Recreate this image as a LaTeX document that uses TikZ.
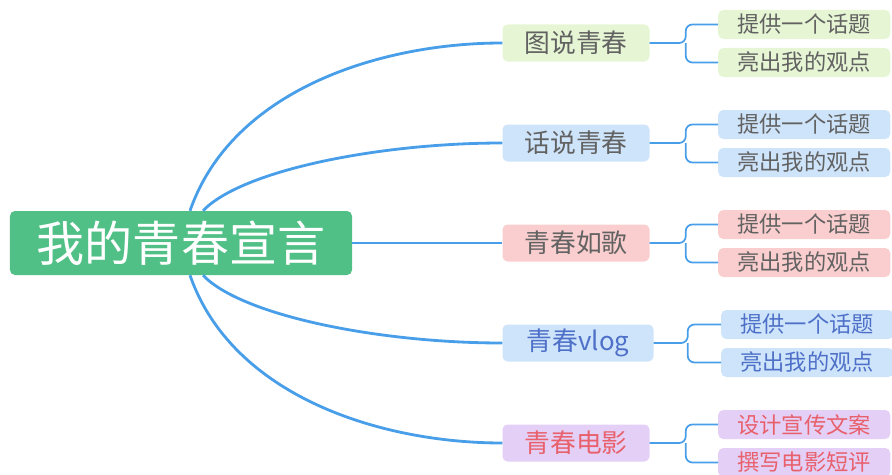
\documentclass[tikz,border=0pt]{standalone}
\usepackage{fontspec}
\setmainfont{Noto Sans CJK SC}
\usetikzlibrary{positioning,calc}
\definecolor{mmGreen}{RGB}{80,192,134}
\definecolor{mmLine}{RGB}{72,158,232}
\definecolor{mmText}{RGB}{98,98,98}
\definecolor{mmLime}{RGB}{230,246,212}
\definecolor{mmSky}{RGB}{206,228,250}
\definecolor{mmPink}{RGB}{250,206,206}
\definecolor{mmLilac}{RGB}{228,208,246}
\definecolor{mmBlueText}{RGB}{78,112,200}
\definecolor{mmRedText}{RGB}{232,96,108}

\begin{document}
\begin{tikzpicture}[
    x=0.03cm, y=-0.03cm,
    root node/.style={rectangle, rounded corners=1.5mm, fill=mmGreen, text=white, minimum width=10.26cm, minimum height=1.92cm, inner sep=0pt, font=\fontsize{41}{46}\selectfont},
    topic node/.style={rectangle, rounded corners=1.5mm, text=mmText, minimum width=4.41cm, minimum height=1.11cm, inner sep=0pt, font=\fontsize{22}{26}\selectfont},
    leaf node/.style={rectangle, rounded corners=1.5mm, text=mmText, minimum width=5.16cm, minimum height=0.87cm, inner sep=0pt, anchor=west, font=\fontsize{19}{23}\selectfont},
    branch/.style={draw=mmLine, line width=2.4pt},
    twig/.style={draw=mmLine, line width=1.5pt, rounded corners=2mm}
]
  \useasboundingbox (0,0) rectangle (892,475);
  \clip (0,0) rectangle (892,475);

  \node[root node] (root) at (181,243) {我的青春宣言};

  \node[topic node, fill=mmLime] (c1) at (576,43) {图说青春};
  \node[topic node, fill=mmSky] (c2) at (576,143) {话说青春};
  \node[topic node, fill=mmPink] (c3) at (576,243) {青春如歌};
  \node[topic node, fill=mmSky, text=mmBlueText, minimum width=4.53cm] (c4) at (578,343) {青春vlog};
  \node[topic node, fill=mmLilac, text=mmRedText] (c5) at (576,443) {青春电影};

  \node[leaf node, fill=mmLime] (l1a) at (718,24.5) {提供一个话题};
  \node[leaf node, fill=mmLime] (l1b) at (718,62.5) {亮出我的观点};
  \node[leaf node, fill=mmSky] (l2a) at (718,124.5) {提供一个话题};
  \node[leaf node, fill=mmSky] (l2b) at (718,162.5) {亮出我的观点};
  \node[leaf node, fill=mmPink] (l3a) at (718,224.5) {提供一个话题};
  \node[leaf node, fill=mmPink] (l3b) at (718,262.5) {亮出我的观点};
  \node[leaf node, fill=mmSky, text=mmBlueText] (l4a) at (721,324.5) {提供一个话题};
  \node[leaf node, fill=mmSky, text=mmBlueText] (l4b) at (721,362.5) {亮出我的观点};
  \node[leaf node, fill=mmLilac, text=mmRedText] (l5a) at (718,424.5) {设计宣传文案};
  \node[leaf node, fill=mmLilac, text=mmRedText] (l5b) at (718,462.5) {撰写电影短评};

  % main branches
  \draw[branch] ($(root.north)+(9,0)$) .. controls (232,90) and (380,43) .. (c1.west);
  \draw[branch] ($(root.north)+(22,0)$) .. controls (242,170) and (380,143) .. (c2.west);
  \draw[branch] (root.east) -- (c3.west);
  \draw[branch] ($(root.south)+(22,0)$) .. controls (242,316) and (380,343) .. (c4.west);
  \draw[branch] ($(root.south)+(9,0)$) .. controls (232,396) and (380,443) .. (c5.west);

  % brackets to the leaves
  \coordinate (j1) at ($(c1.east)+(36,0)$);
  \coordinate (j2) at ($(c2.east)+(36,0)$);
  \coordinate (j3) at ($(c3.east)+(36,0)$);
  \coordinate (j4) at ($(c4.east)+(34,0)$);
  \coordinate (j5) at ($(c5.east)+(36,0)$);
  \draw[twig] (c1.east) -- (j1) |- (l1a.west);
  \draw[twig] (j1) |- (l1b.west);
  \draw[twig] (c2.east) -- (j2) |- (l2a.west);
  \draw[twig] (j2) |- (l2b.west);
  \draw[twig] (c3.east) -- (j3) |- (l3a.west);
  \draw[twig] (j3) |- (l3b.west);
  \draw[twig] (c4.east) -- (j4) |- (l4a.west);
  \draw[twig] (j4) |- (l4b.west);
  \draw[twig] (c5.east) -- (j5) |- (l5a.west);
  \draw[twig] (j5) |- (l5b.west);
\end{tikzpicture}
\end{document}
